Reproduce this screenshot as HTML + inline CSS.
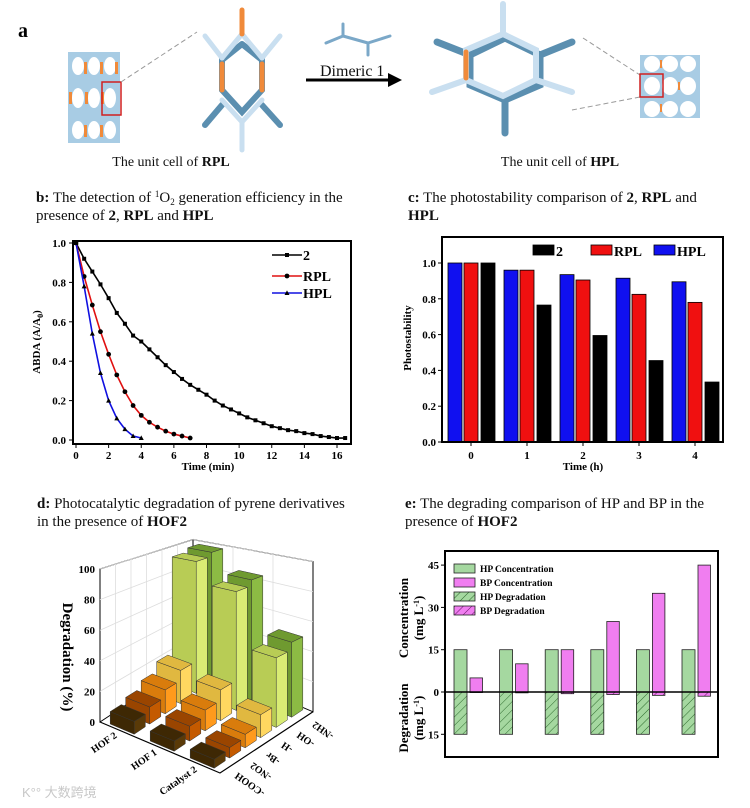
<!DOCTYPE html>
<html><head><meta charset="utf-8">
<style>
html,body{margin:0;padding:0;background:#fff;}
svg{display:block;font-family:"Liberation Serif","Noto Serif CJK SC",serif;}
.t{font-size:14px;fill:#111;}
.tt{font-size:15px;fill:#111;}
.tk{font-size:11px;font-weight:bold;fill:#000;}
.lb{font-size:11px;font-weight:bold;fill:#000;}
</style></head>
<body>
<svg id="fig" width="750" height="808" viewBox="0 0 750 808">
<defs>
<pattern id="hatchG" width="6" height="6" patternUnits="userSpaceOnUse" patternTransform="rotate(45)">
<rect width="6" height="6" fill="#a5d8a0"/><line x1="0" y1="0" x2="0" y2="6" stroke="#2e6b2e" stroke-width="1"/></pattern>
<pattern id="hatchP" width="6" height="6" patternUnits="userSpaceOnUse" patternTransform="rotate(45)">
<rect width="6" height="6" fill="#f07ef0"/><line x1="0" y1="0" x2="0" y2="6" stroke="#6a1a6a" stroke-width="1"/></pattern>
</defs>

<g>
<text x="18" y="37" style="font-size:20px;font-weight:bold">a</text>
<g>
<rect x="68" y="52" width="52" height="91" fill="#a8cce4"/>
<g fill="#fff">
<ellipse cx="78" cy="66" rx="6" ry="9"/><ellipse cx="94" cy="66" rx="6" ry="9"/><ellipse cx="110" cy="66" rx="6" ry="9"/>
<ellipse cx="78" cy="98" rx="6" ry="10"/><ellipse cx="94" cy="98" rx="6" ry="10"/><ellipse cx="110" cy="98" rx="6" ry="10"/>
<ellipse cx="78" cy="130" rx="6" ry="9"/><ellipse cx="94" cy="130" rx="6" ry="9"/><ellipse cx="110" cy="130" rx="6" ry="9"/>
</g>
<g fill="#f08a3a">
<rect x="84" y="62" width="3" height="12"/><rect x="100" y="62" width="3" height="12"/><rect x="115" y="62" width="3" height="12"/>
<rect x="69" y="92" width="3" height="12"/><rect x="85" y="92" width="3" height="12"/><rect x="101" y="92" width="3" height="12"/>
<rect x="84" y="125" width="3" height="12"/><rect x="100" y="125" width="3" height="12"/>
</g>
<rect x="102" y="82" width="19" height="33" fill="none" stroke="#d02020" stroke-width="1.5"/>
</g>
<line x1="121" y1="82" x2="197" y2="32" stroke="#999" stroke-dasharray="5,3"/>
<g stroke-linecap="round" fill="none">
<g stroke="#5b8fb0" stroke-width="6">
<polyline points="242,44 222,60 222,90 242,112 262,90 262,60 242,44"/>
<line x1="222" y1="105" x2="205" y2="125"/><line x1="262" y1="105" x2="280" y2="125"/>
</g>
<g stroke="#c9dff0" stroke-width="5">
<line x1="205" y1="36" x2="222" y2="58"/><line x1="280" y1="36" x2="262" y2="58"/>
<line x1="242" y1="34" x2="222" y2="58"/><line x1="242" y1="34" x2="262" y2="58"/>
<line x1="222" y1="100" x2="242" y2="122"/><line x1="262" y1="100" x2="242" y2="122"/>
<line x1="242" y1="122" x2="242" y2="150"/>
</g>
<g stroke="#f08a3a" stroke-width="5">
<line x1="242" y1="10" x2="242" y2="34"/><line x1="222" y1="64" x2="222" y2="90"/><line x1="262" y1="64" x2="262" y2="90"/>
</g>
</g>
<g stroke="#7ba8c8" stroke-width="3" fill="none" stroke-linecap="round">
<line x1="343" y1="24" x2="343" y2="36"/><line x1="326" y1="43" x2="343" y2="36"/><line x1="343" y1="36" x2="368" y2="43"/><line x1="368" y1="43" x2="390" y2="36"/><line x1="368" y1="43" x2="368" y2="55"/>
</g>
<text x="320" y="76" class="t" style="font-size:16px">Dimeric 1</text>
<g>
<line x1="306" y1="80" x2="390" y2="80" stroke="#000" stroke-width="3"/>
<polygon points="388,73 402,80 388,87" fill="#000"/>
</g>
<g stroke-linecap="round" fill="none">
<g stroke="#5b8fb0" stroke-width="7">
<polygon points="505,38 540,55 540,85 505,100 470,85 470,55"/>
<line x1="437" y1="42" x2="470" y2="55"/><line x1="572" y1="42" x2="540" y2="55"/><line x1="505" y1="100" x2="505" y2="133"/>
</g>
<g stroke="#c9dff0" stroke-width="6">
<polygon points="503,34 536,50 536,80 503,96 466,80 466,50"/>
<line x1="503" y1="4" x2="503" y2="34"/><line x1="432" y1="92" x2="466" y2="80"/><line x1="572" y1="92" x2="536" y2="80"/>
</g>
<line x1="466" y1="52" x2="466" y2="78" stroke="#f08a3a" stroke-width="5"/>
</g>
<line x1="583" y1="38" x2="640" y2="75" stroke="#999" stroke-dasharray="5,3"/>
<line x1="572" y1="110" x2="640" y2="97" stroke="#999" stroke-dasharray="5,3"/>
<g>
<rect x="640" y="55" width="60" height="63" fill="#a8cce4"/>
<g fill="#fff">
<ellipse cx="652" cy="64" rx="8" ry="8"/><ellipse cx="670" cy="64" rx="8" ry="8"/><ellipse cx="688" cy="64" rx="8" ry="8"/>
<ellipse cx="652" cy="86" rx="8" ry="9"/><ellipse cx="670" cy="86" rx="8" ry="9"/><ellipse cx="688" cy="86" rx="8" ry="9"/>
<ellipse cx="652" cy="109" rx="8" ry="8"/><ellipse cx="670" cy="109" rx="8" ry="8"/><ellipse cx="688" cy="109" rx="8" ry="8"/>
</g>
<g fill="#f08a3a"><rect x="660" y="60" width="2" height="8"/><rect x="678" y="82" width="2" height="8"/><rect x="660" y="104" width="2" height="8"/></g>
<rect x="640" y="74" width="23" height="23" fill="none" stroke="#d02020" stroke-width="1.5"/>
</g>
<text x="171" y="166" class="t" text-anchor="middle">The unit cell of <tspan font-weight="bold">RPL</tspan></text>
<text x="560" y="166" class="t" text-anchor="middle">The unit cell of <tspan font-weight="bold">HPL</tspan></text>
</g>

<text x="36" y="202" class="tt"><tspan font-weight="bold">b:</tspan> The detection of <tspan font-size="9" dy="-5">1</tspan><tspan dy="5">O</tspan><tspan font-size="9" dy="3">2</tspan><tspan dy="-3"> generation efficiency in the</tspan></text>
<text x="36" y="220" class="tt">presence of  <tspan font-weight="bold">2</tspan>, <tspan font-weight="bold">RPL</tspan> and <tspan font-weight="bold">HPL</tspan></text>
<text x="408" y="202" class="tt"><tspan font-weight="bold">c:</tspan> The photostability comparison of <tspan font-weight="bold">2</tspan>, <tspan font-weight="bold">RPL</tspan> and</text>
<text x="408" y="220" class="tt" font-weight="bold">HPL</text>
<text x="37" y="508" class="tt"><tspan font-weight="bold">d:</tspan> Photocatalytic degradation of pyrene derivatives</text>
<text x="37" y="526" class="tt">in the presence of <tspan font-weight="bold">HOF2</tspan></text>
<text x="405" y="508" class="tt"><tspan font-weight="bold">e:</tspan>  The degrading comparison of HP and BP in the</text>
<text x="405" y="526" class="tt">presence of <tspan font-weight="bold">HOF2</tspan></text>

<g id="pb"></g>
<g id="pc"></g>
<g id="pd"></g>
<g id="pe"></g>

<text x="22" y="797" style="font-size:13px;fill:#c8c8c8;font-family:'Liberation Sans','Noto Sans CJK SC',sans-serif">K°° 大数跨境</text>
</svg>

<script>
var bTimes2 = [0,0.5,1,1.5,2,2.5,3,3.5,4,4.5,5,5.5,6,6.5,7,7.5,8,8.5,9,9.5,10,10.5,11,11.5,12,12.5,13,13.5,14,14.5,15,15.5,16,16.5];
var bSeries2 = [1.0,0.92,0.855,0.79,0.72,0.645,0.59,0.53,0.50,0.46,0.42,0.38,0.345,0.31,0.28,0.255,0.23,0.20,0.175,0.155,0.135,0.115,0.10,0.085,0.07,0.06,0.05,0.045,0.035,0.03,0.02,0.015,0.01,0.01];
var bTimesRPL = [0,0.5,1,1.5,2,2.5,3,3.5,4,4.5,5,5.5,6,6.5,7];
var bSeriesRPL = [1.0,0.83,0.685,0.55,0.435,0.33,0.245,0.175,0.125,0.09,0.065,0.045,0.03,0.02,0.01];
var bTimesHPL = [0,0.5,1,1.5,2,2.5,3,3.5,4];
var bSeriesHPL = [1.0,0.78,0.54,0.34,0.2,0.11,0.055,0.02,0.01];
var bXTicks = [0,2,4,6,8,10,12,14,16];
var bYTicks = [0,0.2,0.4,0.6,0.8,1.0];
var cCategories = ['0','1','2','3','4'];
var cHPL = [1.0,0.96,0.935,0.915,0.895];
var cRPL = [1.0,0.96,0.905,0.825,0.78];
var c2 = [1.0,0.765,0.595,0.455,0.335];
var cYTicks = [0,0.2,0.4,0.6,0.8,1.0];
var dRows = ['HOF 2','HOF 1','Catalyst 2'];
var dCols = ['-COOH','-NO2','-Br','-H','-OH','-NH2'];
var dHOF2 = [8,11,16,23,95,98];
var dHOF1 = [6,9,13,20,80,84];
var dCat2 = [5,6,8,14,44,49];
var dZTicks = [0,20,40,60,80,100];
var eHPConc = [15,15,15,15,15,15];
var eBPConc = [5,10,15,25,35,45];
var eHPDeg = [15,15,15,15,15,15];
var eBPDeg = [0.2,0.3,0.6,0.9,1.2,1.5];
var eYTicks = [45,30,15,0,-15];
var eYTickLabels = ['45','30','15','0','15'];

var NS='http://www.w3.org/2000/svg';
function E(tag,parent,attrs){var el=document.createElementNS(NS,tag);for(var k in attrs)el.setAttribute(k,attrs[k]);parent.appendChild(el);return el;}

(function(){
var g=document.getElementById('pb');
function xb(t){return 76+t*(337-76)/16;}
function yb(v){return 440-v*197;}
var el=E('rect',g,{x:73,y:241,width:278,height:203,fill:'none',stroke:'#000','stroke-width':2});


bXTicks.forEach(function(t){
 var tl=E('line',g,{x1:xb(t),y1:444,x2:xb(t),y2:448,stroke:'#000'});
 
 
 var tx=E('text',g,{x:xb(t),y:459,'text-anchor':'middle','class':'tk'});tx.textContent=t;
 
 
});
bYTicks.forEach(function(v){
 var tl=E('line',g,{x1:69,y1:yb(v),x2:73,y2:yb(v),stroke:'#000'});
 
 
 var tx=E('text',g,{x:66,y:yb(v)+4,'text-anchor':'end','class':'tk'});tx.textContent=v.toFixed(1);
 
 
});
var xl=E('text',g,{x:208,y:470,'text-anchor':'middle','class':'lb'});xl.textContent='Time (min)';


var yl=E('text',g,{x:0,y:0,'text-anchor':'middle','class':'lb',transform:'translate(40,342) rotate(-90)'});yl.innerHTML='ABDA (A/A<tspan font-size="8" dy="3">0</tspan><tspan dy="-3">)</tspan>';


var series=[[bTimes2,bSeries2,'#000','sq','series-2'],[bTimesRPL,bSeriesRPL,'#e01010','ci','series-rpl'],[bTimesHPL,bSeriesHPL,'#1010e0','tr','series-hpl']];
series.forEach(function(s){
 var pts=s[0].map(function(t,i){return xb(t)+','+yb(s[1][i]);}).join(' ');
 var pl=E('polyline',g,{points:pts,fill:'none',stroke:s[2],'stroke-width':1.6});
 
 
 s[0].forEach(function(t,i){
  var x=xb(t),y=yb(s[1][i]),m;
  if(s[3]=='sq')m=E('rect',g,{x:x-2,y:y-2,width:4,height:4,fill:'#000'});
  else if(s[3]=='ci')m=E('circle',g,{cx:x,cy:y,r:2.4,fill:'#000'});
  else m=E('polygon',g,{points:(x-2.5)+','+(y+2)+' '+(x+2.5)+','+(y+2)+' '+x+','+(y-2.6),fill:'#000'});
  
  
 });
});
var leg=[['2','#000','sq',255],['RPL','#e01010','ci',276],['HPL','#1010e0','tr',293]];
leg.forEach(function(l){
 var ln=E('line',g,{x1:272,y1:l[3],x2:302,y2:l[3],stroke:l[1],'stroke-width':1.6});
 
 
 var x=287,y=l[3],m;
 if(l[2]=='sq')m=E('rect',g,{x:x-2,y:y-2,width:4,height:4,fill:'#000'});
 else if(l[2]=='ci')m=E('circle',g,{cx:x,cy:y,r:2.4,fill:'#000'});
 else m=E('polygon',g,{points:(x-2.5)+','+(y+2)+' '+(x+2.5)+','+(y+2)+' '+x+','+(y-2.6),fill:'#000'});
 
 
 var tx=E('text',g,{x:303,y:l[3]+5,style:'font-size:14px;font-weight:bold'});tx.textContent=l[0];
 
 
});
})();

(function(){
var g=document.getElementById('pc');
function yc(v){return 442-v*179;}
function xc(i){return 471+i*56;}
cCategories.forEach(function(c,i){
 var b1=E('rect',g,{x:xc(i)-23,y:yc(cHPL[i]),width:14,height:442-yc(cHPL[i]),fill:'#1010f0',stroke:'#000','stroke-width':0.8});
 
 
 var b2=E('rect',g,{x:xc(i)-7,y:yc(cRPL[i]),width:14,height:442-yc(cRPL[i]),fill:'#f01010',stroke:'#000','stroke-width':0.8});
 
 
 var b3=E('rect',g,{x:xc(i)+10,y:yc(c2[i]),width:14,height:442-yc(c2[i]),fill:'#000',stroke:'#000','stroke-width':0.8});
 
 
 var tx=E('text',g,{x:xc(i),y:459,'text-anchor':'middle','class':'tk'});tx.textContent=c;
 
 
 var tl=E('line',g,{x1:xc(i),y1:442,x2:xc(i),y2:446,stroke:'#000'});
 
 
});
var fr=E('rect',g,{x:442,y:237,width:281,height:205,fill:'none',stroke:'#000','stroke-width':2});


cYTicks.forEach(function(v){
 var tl=E('line',g,{x1:438,y1:yc(v),x2:442,y2:yc(v),stroke:'#000'});
 
 
 var tx=E('text',g,{x:436,y:yc(v)+4,'text-anchor':'end','class':'tk'});tx.textContent=v.toFixed(1);
 
 
});
var xl=E('text',g,{x:583,y:470,'text-anchor':'middle','class':'lb'});xl.textContent='Time (h)';


var yl=E('text',g,{x:0,y:0,'text-anchor':'middle','class':'lb',transform:'translate(411,338) rotate(-90)'});yl.textContent='Photostability';


var leg=[['2','#000',533],['RPL','#f01010',591],['HPL','#1010f0',654]];
leg.forEach(function(l){
 var r=E('rect',g,{x:l[2],y:245,width:21,height:10,fill:l[1],stroke:'#000','stroke-width':0.8});
 
 
 var tx=E('text',g,{x:l[2]+23,y:256,style:'font-size:14px;font-weight:bold'});tx.textContent=l[0];
 
 
});
})();

(function(){
var g=document.getElementById('pd');
function sc(r,c){return 1.53+0.097*r-0.053*c;}
function P(r,c,h){return [100+r*40+c*15.5, 722+r*17-c*10.2-h*sc(r,c)];}
function pts(a){return a.map(function(p){return p[0].toFixed(1)+','+p[1].toFixed(1);}).join(' ');}
var w1=E('polygon',g,{points:pts([P(0,0,0),P(0,6,0),P(0,6,100),P(0,0,100)]),fill:'#fff',stroke:'#000','stroke-width':1});


var w2=E('polygon',g,{points:pts([P(0,6,0),P(3,6,0),P(3,6,100),P(0,6,100)]),fill:'#fff',stroke:'#000','stroke-width':1});


dZTicks.forEach(function(z){
 if(z>0){
 var a=P(0,0,z),b=P(0,6,z),c=P(3,6,z);
 var gl=E('polyline',g,{points:pts([a,b,c]),fill:'none',stroke:'#ddd','stroke-width':0.8});
 
 }
 var p=P(0,0,z);
 var tx=E('text',g,{x:p[0]-5,y:p[1]+4,'text-anchor':'end',style:'font-size:11px;font-weight:bold'});tx.textContent=z;
 
 
});
for(var c=1;c<6;c++){var a=P(0,c,0),b=P(0,c,100);
 var gl=E('line',g,{x1:a[0],y1:a[1],x2:b[0],y2:b[1],stroke:'#ddd','stroke-width':0.8});
 
 }
for(var r=1;r<3;r++){var a=P(r,6,0),b=P(r,6,100);
 var gl2=E('line',g,{x1:a[0],y1:a[1],x2:b[0],y2:b[1],stroke:'#ddd','stroke-width':0.8});
 
 }
var fl1=E('polyline',g,{points:pts([P(0,0,0),P(3,0,0),P(3,6,0)]),fill:'none',stroke:'#000','stroke-width':1.2});


var colors=['#5a3a08','#c45a00','#ff9a1c','#ffd760','#d9ec74','#8cbb44'];
var sides=['#3e2804','#9a4500','#d97c0c','#e0b840','#b8cc55','#6f9a30'];
var data=[dHOF2,dHOF1,dCat2];
for(var r=0;r<3;r++){
 for(var c=5;c>=0;c--){
  var h=data[r][c],rc=r+0.5,cc=c+0.5,dr=0.3,dc=0.36;
  var fA=E('polygon',g,{points:pts([P(rc+dr,cc-dc,0),P(rc+dr,cc+dc,0),P(rc+dr,cc+dc,h),P(rc+dr,cc-dc,h)]),fill:colors[c],stroke:'#333','stroke-width':0.5});
  
  
  var fB=E('polygon',g,{points:pts([P(rc-dr,cc-dc,0),P(rc+dr,cc-dc,0),P(rc+dr,cc-dc,h),P(rc-dr,cc-dc,h)]),fill:sides[c],stroke:'#333','stroke-width':0.5});
  
  
  var fT=E('polygon',g,{points:pts([P(rc-dr,cc-dc,h),P(rc+dr,cc-dc,h),P(rc+dr,cc+dc,h),P(rc-dr,cc+dc,h)]),fill:sides[c],stroke:'#333','stroke-width':0.5});
  
  
 }
}
dRows.forEach(function(n,r){
 var p=P(r+0.5,-0.3,0);
 var tx=E('text',g,{x:p[0],y:p[1]+4,'text-anchor':'end',style:'font-size:10px;font-weight:bold',transform:'rotate(-35 '+p[0]+' '+p[1]+')'});tx.textContent=n;
 
 
});
dCols.forEach(function(n,c){
 var p=P(3.25,c+0.5,0);
 var tx=E('text',g,{x:p[0],y:p[1],'text-anchor':'end',style:'font-size:10px;font-weight:bold',transform:'rotate(215 '+p[0]+' '+p[1]+')'});tx.textContent=n;
 
 
});
var yl=E('text',g,{x:0,y:0,'text-anchor':'middle',style:'font-size:15px;font-weight:bold',transform:'translate(63,657) rotate(90)'});yl.textContent='Degradation (%)';


})();

(function(){
var g=document.getElementById('pe');
function ye(v){return 692-v*2.82;}
function xe(i){return 454+i*45.6;}
eHPConc.forEach(function(v,i){
 var a=E('rect',g,{x:xe(i),y:ye(v),width:13,height:ye(0)-ye(v),fill:'#a5d8a0',stroke:'#222','stroke-width':0.8});
 
 
 var b=E('rect',g,{x:xe(i)+16,y:ye(eBPConc[i]),width:12.5,height:ye(0)-ye(eBPConc[i]),fill:'#f07ef0',stroke:'#222','stroke-width':0.8});
 
 
 var cc=E('rect',g,{x:xe(i),y:ye(0),width:13,height:ye(-eHPDeg[i])-ye(0),fill:'url(#hatchG)',stroke:'#222','stroke-width':0.8});
 
 
 var d=E('rect',g,{x:xe(i)+16,y:ye(0),width:12.5,height:ye(-eBPDeg[i])-ye(0),fill:'url(#hatchP)',stroke:'#222','stroke-width':0.8});
 
 
});
var zl=E('line',g,{x1:445,y1:ye(0),x2:718,y2:ye(0),stroke:'#000','stroke-width':1.5});


var fr=E('rect',g,{x:445,y:551,width:273,height:206,fill:'none',stroke:'#000','stroke-width':2});


eYTicks.forEach(function(v,i){
 var tl=E('line',g,{x1:441,y1:ye(v),x2:445,y2:ye(v),stroke:'#000'});
 
 
 var tx=E('text',g,{x:439,y:ye(v)+4,'text-anchor':'end','class':'tk'});tx.textContent=eYTickLabels[i];
 
 
});
var labs=[['HP Concentration','#a5d8a0'],['BP Concentration','#f07ef0'],['HP Degradation','url(#hatchG)'],['BP Degradation','url(#hatchP)']];
labs.forEach(function(l,i){
 var r=E('rect',g,{x:454,y:564+i*14,width:21,height:9,fill:l[1],stroke:'#222','stroke-width':0.8});
 
 
 var tx=E('text',g,{x:480,y:572+i*14,style:'font-size:9.5px;font-weight:bold'});tx.textContent=l[0];
 
 
});
var y1=E('text',g,{x:0,y:0,'text-anchor':'middle',style:'font-size:13px;font-weight:bold',transform:'translate(408,618) rotate(-90)'});y1.textContent='Concentration';


var y2=E('text',g,{x:0,y:0,'text-anchor':'middle',style:'font-size:13px;font-weight:bold',transform:'translate(423,618) rotate(-90)'});y2.innerHTML='(mg L<tspan font-size="8" dy="-4">-1</tspan><tspan dy="4">)</tspan>';


var y3=E('text',g,{x:0,y:0,'text-anchor':'middle',style:'font-size:13px;font-weight:bold',transform:'translate(408,718) rotate(-90)'});y3.textContent='Degradation';


var y4=E('text',g,{x:0,y:0,'text-anchor':'middle',style:'font-size:13px;font-weight:bold',transform:'translate(423,718) rotate(-90)'});y4.innerHTML='(mg L<tspan font-size="8" dy="-4">-1</tspan><tspan dy="4">)</tspan>';


})();
</script>
</body></html>
